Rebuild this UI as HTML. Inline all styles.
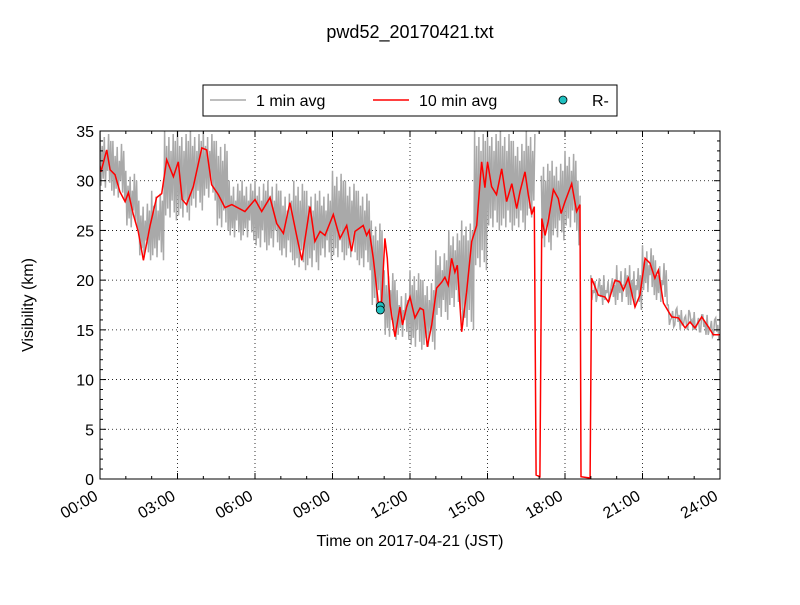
<!DOCTYPE html>
<html><head><meta charset="utf-8"><style>
body{margin:0;background:#fff;}
svg{font-family:"Liberation Sans",sans-serif;}
</style></head><body>
<svg id="chart" width="800" height="600" viewBox="0 0 800 600">
<rect width="800" height="600" fill="#fff"/>
<text x="410" y="38" font-size="18" text-anchor="middle">pwd52_20170421.txt</text>
<defs><clipPath id="pc"><rect x="100" y="131" width="620" height="348"/></clipPath></defs>
<g id="grid"></g>
<g id="series" clip-path="url(#pc)"></g>
<rect x="100" y="131" width="620" height="348" fill="none" stroke="#000" stroke-width="1"/>
<g id="axes"></g>
<text x="410" y="546" font-size="16" text-anchor="middle">Time on 2017-04-21 (JST)</text>
<text x="33" y="305" font-size="16" text-anchor="middle" transform="rotate(-90 33 305)">Visibility (km)</text>
<g>
<rect x="203" y="85" width="414" height="31" fill="#fff" stroke="#000"/>
<line x1="210" y1="100" x2="246" y2="100" stroke="#a9a9a9" stroke-width="1.5"/>
<text x="256" y="106" font-size="16">1 min avg</text>
<line x1="373" y1="100" x2="409" y2="100" stroke="red" stroke-width="1.5"/>
<text x="419" y="106" font-size="16">10 min avg</text>
<circle cx="563" cy="100" r="4" fill="#20c0c0" stroke="#000" stroke-width="0.8"/>
<text x="592" y="106" font-size="16">R-</text>
</g>
</svg>
<script>
const avgTimes=[0,0.04,0.26,0.39,0.58,0.77,0.97,1.1,1.29,1.48,1.68,1.94,2.19,2.39,2.58,2.84,3.03,3.18,3.35,3.61,3.94,4.13,4.32,4.58,4.84,5.1,5.61,6,6.26,6.58,6.84,7.1,7.35,7.61,7.81,8.13,8.32,8.52,8.71,9.03,9.29,9.55,9.74,9.87,10.19,10.32,10.42,10.58,10.77,10.9,11.03,11.12,11.23,11.42,11.61,11.71,11.87,12,12.19,12.39,12.52,12.67,12.84,13.03,13.23,13.35,13.48,13.61,13.74,13.83,14,14.19,14.39,14.58,14.77,14.9,15,15.16,15.35,15.55,15.74,15.94,16.13,16.26,16.45,16.58,16.71,16.81,16.88,17.03,17.1,17.23,17.35,17.55,17.74,17.85,18,18.26,18.45,18.58,18.62,18.97,19.03,19.29,19.55,19.68,19.94,20.13,20.26,20.45,20.71,20.9,21.1,21.29,21.48,21.61,21.81,22.13,22.39,22.65,22.84,23.03,23.29,23.55,23.74,24];
const avgValues=[31.5,30.9,33.1,31.1,30.6,28.9,27.9,28.8,26.6,24.9,22.0,25.5,28.3,28.7,32.1,30.4,31.9,28.1,27.6,29.4,33.3,33.1,29.6,28.6,27.3,27.6,26.9,28.1,26.9,28.3,25.7,24.7,27.8,24.5,22.0,27.4,23.9,24.9,24.5,26.6,24.2,25.5,22.9,24.9,25.5,24.5,25.0,22.2,17.8,17.8,24.2,22.2,17.5,14.3,17.3,15.5,17.3,18.3,16.2,17.2,17.0,13.3,15.5,19.2,19.8,20.3,19.5,22.2,20.8,21.5,14.8,18.8,23.9,25.5,31.9,29.3,31.9,29.4,28.6,31.2,27.9,29.7,27.2,28.9,30.9,28.6,26.6,27.4,0.4,0.23,26.2,24.5,25.9,29.1,28.2,26.7,27.9,29.7,26.9,27.6,0.23,0.1,20.2,18.5,18.3,17.8,20.0,19.8,19.0,20.2,17.3,18.5,22.2,21.7,20.2,21.0,17.7,16.3,16.2,15.2,15.8,15.2,16.3,15.3,14.5,14.5];
const rawTimes=[0,0.5,1,1.5,2,2.5,3,3.5,4,4.5,5,5.5,6,6.5,7,7.5,8,8.5,9,9.5,10,10.5,11,11.5,12,12.5,13,13.5,14,14.5,15,15.5,16,16.5,17,17.5,18,18.5,19,19.5,20,20.5,21,21.5,22,22.5,23,23.5];
const rawHigh=[35,34,31,28,29,35,35,35,35,34,30,30,30,30,29,30,29,29,31,30,29,26,21,19,21,20,23,25,26,35,35,35,34,35,32,32,33,30,20.5,20.5,21.5,21.5,23.5,22,17.5,17,16.8,16.5];
const rawLow=[29,28,25,22,22,26,26,27,28,25,24,24,23,23,22,21,21,22,22,22,21,17,14,14,13,13,16,17,15,21,25,25,25,26,23,24,25,23,17.5,17.5,17.5,17,18.5,17.5,15,15,14.5,14];
const gaps=[[16.85,17.07],[18.6,19.0]];
const rTimes=[10.85,10.85];
const rValues=[17.4,17.0];
const xTicks=["00:00","03:00","06:00","09:00","12:00","15:00","18:00","21:00","24:00"];
const yTicks=[0,5,10,15,20,25,30,35];

const X=h=>100+h*620/24, Y=v=>479-v*348/35;
const NS="http://www.w3.org/2000/svg";
function mk(tag,attrs,parent){const e=document.createElementNS(NS,tag);for(const k in attrs)e.setAttribute(k,attrs[k]);parent.appendChild(e);return e;}
const grid=document.getElementById('grid'),axes=document.getElementById('axes'),series=document.getElementById('series');
yTicks.forEach(v=>{
  if(v>0&&v<35){const g=mk('line',{x1:100,x2:720,y1:Y(v),y2:Y(v),stroke:'#000','stroke-dasharray':'1,3','stroke-width':0.8},grid);
  
  }
  const t=mk('text',{x:94,y:Y(v)+6,'font-size':16,'text-anchor':'end'},axes);t.textContent=v;
  
  
});
for(let v=0;v<=35;v++){const L=v%5===0?6:3;
  mk('line',{x1:100,x2:100+L,y1:Y(v),y2:Y(v),stroke:'#000'},axes);
  mk('line',{x1:720,x2:720-L,y1:Y(v),y2:Y(v),stroke:'#000'},axes);}
xTicks.forEach((s,i)=>{const h=i*3,x=X(h);
  if(i>0&&i<8){const g=mk('line',{x1:x,x2:x,y1:131,y2:479,stroke:'#000','stroke-dasharray':'1,3','stroke-width':0.8},grid);
  
  }
  const ax=x-1,ay=499;
  const t=mk('text',{x:ax,y:ay,'font-size':16,'text-anchor':'end',transform:`rotate(-30 ${ax} ${ay})`},axes);t.textContent=s;
  
  
});
for(let h=0;h<=24;h++){const L=h%3===0?6:3,x=X(h);
  mk('line',{x1:x,x2:x,y1:479,y2:479-L,stroke:'#000'},axes);
  mk('line',{x1:x,x2:x,y1:131,y2:131+L,stroke:'#000'},axes);}
// 1-min trace drawn as dense zigzag between high/low envelopes
const pattern=[[0,1,0],[1,0,0.5],[0,1,-1.5],[1,0,1.2],[0,1,-0.6],[1,0,0.3],[0,1,-2],[1,0,2],[0,1,-0.3],[1,0,0.8],[0,1,-1],[1,0,0]];
let segs=[],cur=[];
const inGap=t=>gaps.some(g=>t>g[0]&&t<g[1]);
rawTimes.forEach((t,i)=>{
  pattern.forEach(([wl,wh,off],k)=>{
    const tt=t+k*0.5/pattern.length;
    const v=(wh?rawHigh[i]:rawLow[i])+(wh?off:-off*0.5)*0+ (wh? Math.min(0,off):Math.max(0,off));
    if(inGap(tt)){if(cur.length){segs.push(cur);cur=[];}}
    else cur.push(X(tt).toFixed(1)+','+Y(v).toFixed(1));
  });
});
if(cur.length)segs.push(cur);
segs.forEach(s=>{const p=mk('polyline',{points:s.join(' '),fill:'none',stroke:'#a9a9a9','stroke-width':1.5},series);
  
  });
const red=mk('polyline',{points:avgTimes.map((t,i)=>X(t).toFixed(1)+','+Y(avgValues[i]).toFixed(1)).join(' '),fill:'none',stroke:'red','stroke-width':1.5},series);


rTimes.forEach((t,i)=>{const c=mk('circle',{cx:X(t),cy:Y(rValues[i]),r:4,fill:'#20c0c0',stroke:'#000','stroke-width':0.8},series);
  
  });
</script>
</body></html>
